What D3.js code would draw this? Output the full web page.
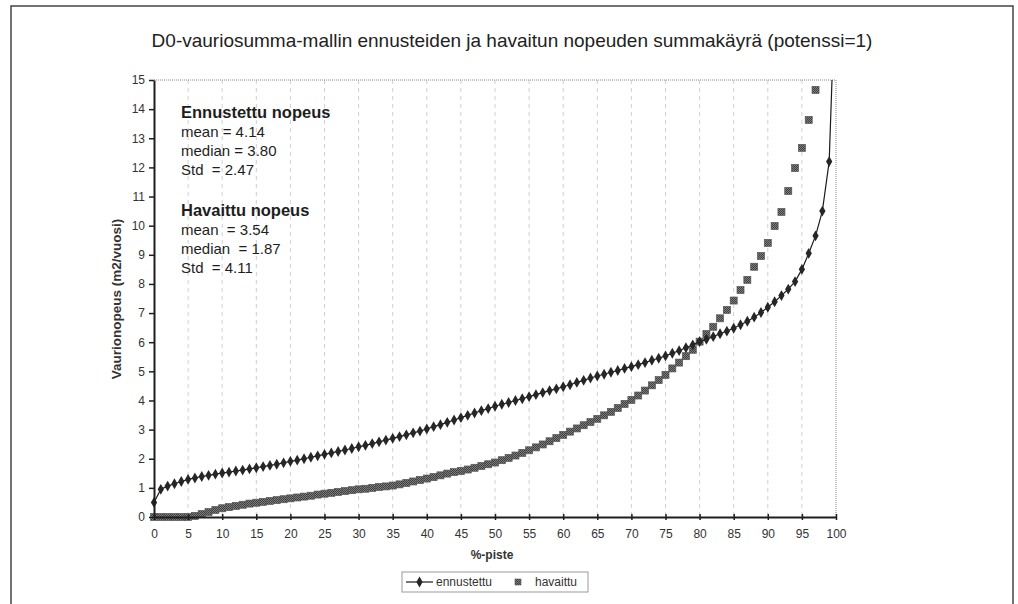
<!DOCTYPE html>
<html>
<head>
<meta charset="utf-8">
<script src="https://cdn.jsdelivr.net/npm/d3@7"></script>
<style>
  html, body { margin: 0; padding: 0; background: #fff; }
  svg { display: block; font-family: "Liberation Sans", Arial, sans-serif; }
  .stat { white-space: pre; }
</style>
</head>
<body>
<svg id="chart" width="1018" height="604"></svg>
<script>
// Percentile points 0..100
const percentiles = d3.range(0, 101);

// Predicted rate (ennustettu), m2/vuosi
const ennustettu = [
  0.50, 0.95, 1.06, 1.14, 1.22, 1.29, 1.34, 1.39, 1.43, 1.47,
  1.51, 1.54, 1.58, 1.61, 1.65, 1.69, 1.73, 1.77, 1.81, 1.86,
  1.91, 1.95, 2.00, 2.05, 2.10, 2.15, 2.20, 2.25, 2.30, 2.35,
  2.41, 2.46, 2.52, 2.58, 2.64, 2.70, 2.76, 2.82, 2.89, 2.95,
  3.02, 3.10, 3.17, 3.25, 3.33, 3.41, 3.49, 3.57, 3.65, 3.72,
  3.80, 3.87, 3.93, 4.00, 4.06, 4.13, 4.20, 4.27, 4.34, 4.40,
  4.47, 4.54, 4.62, 4.69, 4.77, 4.84, 4.90, 4.97, 5.03, 5.10,
  5.16, 5.23, 5.30, 5.38, 5.45, 5.53, 5.62, 5.71, 5.81, 5.91,
  6.02, 6.10, 6.19, 6.29, 6.38, 6.48, 6.60, 6.72, 6.86, 7.02,
  7.20, 7.39, 7.60, 7.82, 8.08, 8.50, 9.05, 9.65, 10.50, 12.20,
  19.00
];

// Observed rate (havaittu), m2/vuosi
const havaittu = [
  0.00, 0.00, 0.00, 0.00, 0.00, 0.00, 0.04, 0.10, 0.17, 0.24,
  0.30, 0.34, 0.38, 0.42, 0.46, 0.49, 0.52, 0.55, 0.58, 0.61,
  0.64, 0.67, 0.70, 0.73, 0.77, 0.80, 0.83, 0.86, 0.89, 0.92,
  0.95, 0.97, 1.00, 1.03, 1.05, 1.08, 1.12, 1.17, 1.22, 1.27,
  1.32, 1.37, 1.43, 1.49, 1.54, 1.58, 1.63, 1.69, 1.75, 1.81,
  1.87, 1.95, 2.03, 2.11, 2.20, 2.29, 2.39, 2.49, 2.60, 2.71,
  2.82, 2.93, 3.04, 3.15, 3.26, 3.37, 3.49, 3.61, 3.74, 3.88,
  4.02, 4.17, 4.34, 4.52, 4.70, 4.88, 5.10, 5.30, 5.52, 5.74,
  6.02, 6.28, 6.53, 6.82, 7.11, 7.43, 7.79, 8.14, 8.59, 8.96,
  9.41, 9.99, 10.47, 11.19, 11.98, 12.67, 13.63, 14.66, 16.50, 19.50,
  25.00
];

const xTicks = d3.range(0, 101, 5);
const yTicks = d3.range(0, 16, 1);

const titleText = "D0-vauriosumma-mallin ennusteiden ja havaitun nopeuden summakäyrä (potenssi=1)";
const xTitle = "%-piste";
const yTitle = "Vaurionopeus (m2/vuosi)";
const seriesNames = ["ennustettu", "havaittu"];

const statsBlocks = [
  { head: "Ennustettu nopeus", lines: ["mean = 4.14", "median = 3.80", "Std  = 2.47"] },
  { head: "Havaittu nopeus", lines: ["mean  = 3.54", "median  = 1.87", "Std  = 4.11"] }
];

const svg = d3.select("#chart");

// Outer chart frame
svg.append("rect")
  .attr("x", 11).attr("y", 6).attr("width", 1002).attr("height", 620)
  .attr("fill", "#fff").attr("stroke", "#444").attr("stroke-width", 1.5);

const x = d3.scaleLinear().domain([0, 100]).range([154, 836]);
const y = d3.scaleLinear().domain([0, 15]).range([517, 80]);

// Checkered fill used by the observed-series squares
const defs = svg.append("defs");
const pat = defs.append("pattern")
  .attr("id", "checker").attr("patternUnits", "userSpaceOnUse")
  .attr("width", 2).attr("height", 2);
pat.append("rect").attr("width", 2).attr("height", 2).attr("fill", "#7e7e7e");
pat.append("rect").attr("width", 1).attr("height", 1).attr("fill", "#3e3e3e");
pat.append("rect").attr("x", 1).attr("y", 1).attr("width", 1).attr("height", 1).attr("fill", "#3e3e3e");

defs.append("clipPath").attr("id", "plotClip")
  .append("rect")
  .attr("x", x(0) - 1).attr("y", y(15))
  .attr("width", x(100) - x(0) + 2).attr("height", y(0) - y(15) + 1);

// Vertical dashed gridlines
svg.append("g")
  .selectAll("line")
  .data(xTicks.filter(d => d > 0 && d < 100))
  .join("line")
  .attr("x1", d => x(d)).attr("x2", d => x(d))
  .attr("y1", y(15)).attr("y2", y(0))
  .attr("stroke", "#cfcfcf").attr("stroke-width", 1)
  .attr("stroke-dasharray", "4,4");

// Dotted top and right plot border
svg.append("path")
  .attr("d", `M${x(0)},${y(15)}H${x(100)}V${y(0)}`)
  .attr("fill", "none").attr("stroke", "#888")
  .attr("stroke-width", 1).attr("stroke-dasharray", "1,1");

// Observed series: squares only
const sq = 7;
svg.append("g")
  .selectAll("rect")
  .data(percentiles.map((p, i) => ({ p, v: havaittu[i] })).filter(d => d.v <= 15))
  .join("rect")
  .attr("x", d => x(d.p) - sq / 2)
  .attr("y", d => y(d.v) - sq / 2)
  .attr("width", sq).attr("height", sq)
  .attr("fill", "url(#checker)")
  .attr("stroke", "#555").attr("stroke-width", 0.7);

// Predicted series: line with diamond markers
const linePts = percentiles.map((p, i) => ({ p, v: ennustettu[i] }));
svg.append("path")
  .datum(linePts)
  .attr("clip-path", "url(#plotClip)")
  .attr("d", d3.line().x(d => x(d.p)).y(d => y(d.v)))
  .attr("fill", "none").attr("stroke", "#1a1a1a").attr("stroke-width", 1.2);

const diamond = d3.symbol().type(d3.symbolDiamond).size(34);
svg.append("g")
  .selectAll("path")
  .data(linePts.filter(d => d.v <= 15))
  .join("path")
  .attr("transform", d => `translate(${x(d.p)},${y(d.v)})`)
  .attr("d", diamond)
  .attr("fill", "#262626");

// Axes
const yAxis = svg.append("g")
  .attr("transform", `translate(${x(0)},0)`)
  .call(d3.axisLeft(y).tickValues(yTicks).tickSize(5).tickPadding(4).tickSizeOuter(0));
const xAxis = svg.append("g")
  .attr("transform", `translate(0,${y(0)})`)
  .call(d3.axisBottom(x).tickValues(xTicks).tickSize(3).tickPadding(9).tickSizeOuter(0));
xAxis.selectAll(".tick line").attr("y1", -3);

[yAxis, xAxis].forEach(g => {
  g.select(".domain").attr("stroke", "#1e1e1e").attr("stroke-width", 2);
  g.selectAll(".tick line").attr("stroke", "#1e1e1e").attr("stroke-width", 1.5);
  g.selectAll(".tick text")
    .attr("font-family", "Liberation Sans, Arial, sans-serif")
    .attr("font-size", 12).attr("fill", "#333");
});

// Title
svg.append("text")
  .attr("x", 512).attr("y", 47)
  .attr("text-anchor", "middle")
  .attr("font-size", 19).attr("fill", "#222")
  .text(titleText);

// Axis titles
svg.append("text")
  .attr("x", 492).attr("y", 559)
  .attr("text-anchor", "middle")
  .attr("font-size", 12).attr("font-weight", "bold").attr("fill", "#333")
  .text(xTitle);

svg.append("text")
  .attr("transform", "translate(121,299) rotate(-90)")
  .attr("text-anchor", "middle")
  .attr("font-size", 13.5).attr("font-weight", "bold").attr("fill", "#333")
  .text(yTitle);

// Summary statistics text
const stats = svg.append("g").attr("fill", "#1e1e1e");
statsBlocks.forEach((b, bi) => {
  const top = 118 + bi * 98;
  stats.append("text")
    .attr("x", 181).attr("y", top)
    .attr("font-size", 16.5).attr("font-weight", "bold")
    .text(b.head);
  b.lines.forEach((t, li) => {
    stats.append("text")
      .attr("class", "stat")
      .attr("x", 181).attr("y", top + 19 * (li + 1))
      .attr("font-size", 15)
      .text(t);
  });
});

// Legend
const lg = svg.append("g");
lg.append("rect")
  .attr("x", 402).attr("y", 572).attr("width", 186).attr("height", 20)
  .attr("fill", "#fff").attr("stroke", "#9a9a9a").attr("stroke-width", 1);
lg.append("line")
  .attr("x1", 406).attr("x2", 433).attr("y1", 582).attr("y2", 582)
  .attr("stroke", "#1a1a1a").attr("stroke-width", 1.2);
lg.append("path")
  .attr("transform", "translate(419.5,582)")
  .attr("d", diamond).attr("fill", "#262626");
lg.append("text")
  .attr("x", 436).attr("y", 586)
  .attr("font-size", 12).attr("fill", "#333")
  .text(seriesNames[0]);
lg.append("rect")
  .attr("x", 515).attr("y", 579).attr("width", 6).attr("height", 6)
  .attr("fill", "url(#checker)").attr("stroke", "#555").attr("stroke-width", 0.6);
lg.append("text")
  .attr("x", 535).attr("y", 586)
  .attr("font-size", 12).attr("fill", "#333")
  .text(seriesNames[1]);
</script>
</body>
</html>
